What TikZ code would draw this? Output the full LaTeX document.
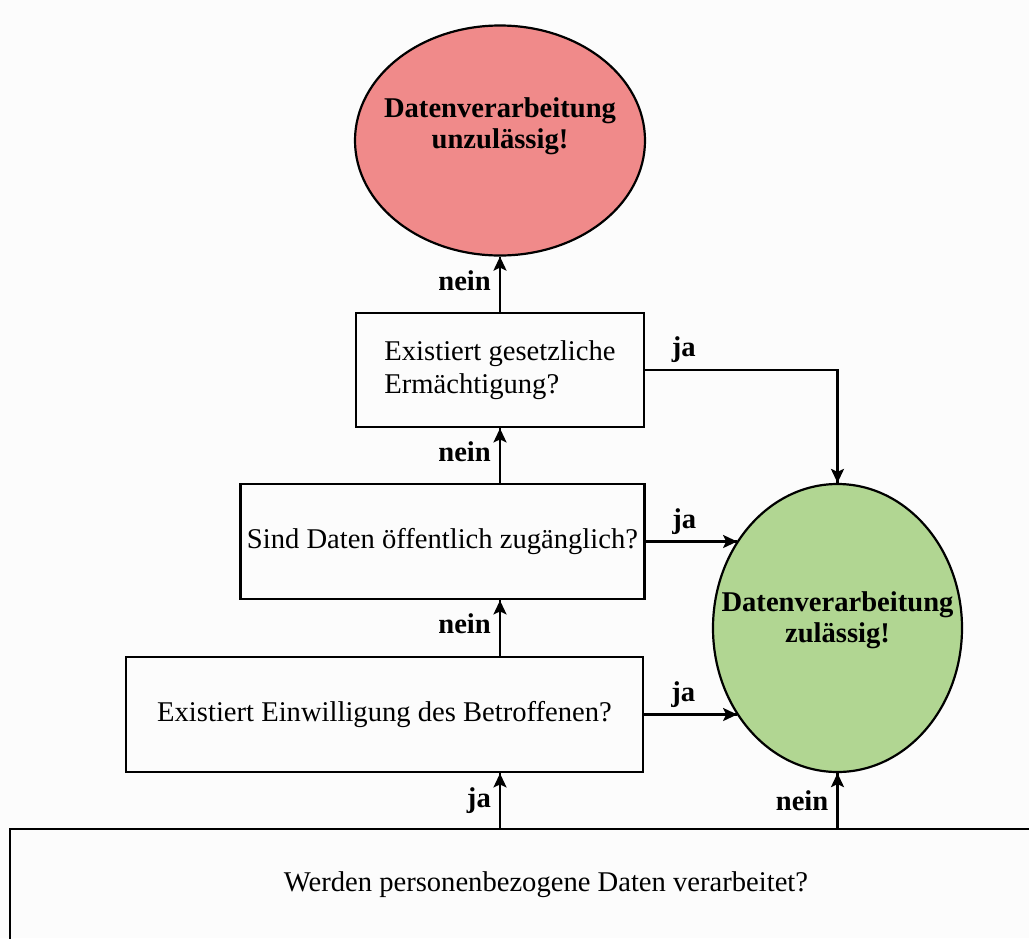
\documentclass[tikz,border=0pt]{standalone}
\usepackage{fontspec}
\setmainfont{Liberation Serif}
\usepackage{xcolor}
\usetikzlibrary{arrows.meta,decorations.markings,shapes.geometric}

\definecolor{neincol}{RGB}{240,138,138}
\definecolor{jacol}{RGB}{177,214,146}

\begin{document}
\begin{tikzpicture}[x=0.5pt,y=-0.5pt]
        \tikzset{myptr/.style={line width=1.2pt,decoration={markings,mark=at position 1 with %
        {\arrow{Stealth[length=7pt,width=6.5pt,inset=1.5pt]}}},postaction={decorate}}}
        \tikzset{mybox/.style={draw,line width=1.4pt,font=\fontsize{14.3}{16.5}\selectfont,align=left}}
        \tikzset{myell/.style={ellipse,draw,line width=1.1pt}}
        \tikzset{mylbl/.style={font=\fontsize{14.3}{15.5}\selectfont\bfseries,inner sep=2pt}}

        \useasboundingbox (0,0) rectangle (1029,938);
        \fill[white!99!black] (0,0) rectangle (1029,938);

        % top
        \node[myell,fill=neincol,minimum width=145pt,minimum height=115pt] (nok) at (500,140.5) {};
        \node[mylbl,align=center] (noktxt) at ([yshift=7.25pt]nok.center) {Datenverarbeitung\\unzulässig!};

        % questions
        \node[mybox,minimum width=144pt,minimum height=57pt] (box1) at (500,370) {Existiert gesetzliche\\Ermächtigung?};
        \node[mybox,minimum width=201.5pt,minimum height=57.5pt] (box2) at (442.5,541.5) {Sind Daten öffentlich zugänglich?};
        \node[mybox,minimum width=258.5pt,minimum height=57.5pt] (box3) at (384.5,714.5) {Existiert Einwilligung des Betroffenen?};
        \node[mybox,minimum width=536pt,minimum height=56pt] (base) at (546,885) {Werden personenbezogene Daten verarbeitet?};

        % right
        \node[myell,fill=jacol,minimum width=124.5pt,minimum height=144pt] (ok) at (837.5,628) {};
        \node[mylbl,align=center] (oktxt) at ([yshift=3.75pt]ok.center) {Datenverarbeitung\\zulässig!};

        % lines
        % nein, upwards
        \draw[myptr] (box1.north) -- node[mylbl,left=2pt,pos=0.57] (n1) {nein} (nok.south);
        \draw[myptr] (box1.south |- box2.north) -- node[mylbl,left=2pt,pos=0.57] (n2) {nein} (box1.south);
        \draw[myptr] (box1.south |- box3.north) -- node[mylbl,left=2pt,pos=0.57] (n3) {nein} (box1.south |- box2.south);
        \draw[myptr] (box1.south |- base.north) -- node[mylbl,left=2pt] (j4) {ja} (box1.south |- box3.south);
        \draw[myptr] (ok.south |- base.north) -- node[mylbl,left=2pt] (n4) {nein} (ok.south);
        % ja, to the right
        \draw[myptr] (box1.east) -- node[mylbl,above=1pt,pos=0.2] (j1) {ja} (box1.east -| ok.north) -- (ok.north);
        \draw[myptr] (box2.east) -- node[mylbl,above=1pt,pos=0.42] (j2) {ja} (box2.east -| ok.139);
        \draw[myptr] (box3.east) -- node[mylbl,above=1pt,pos=0.42] (j3) {ja} (box3.east -| ok.221);
\end{tikzpicture}
\end{document}
